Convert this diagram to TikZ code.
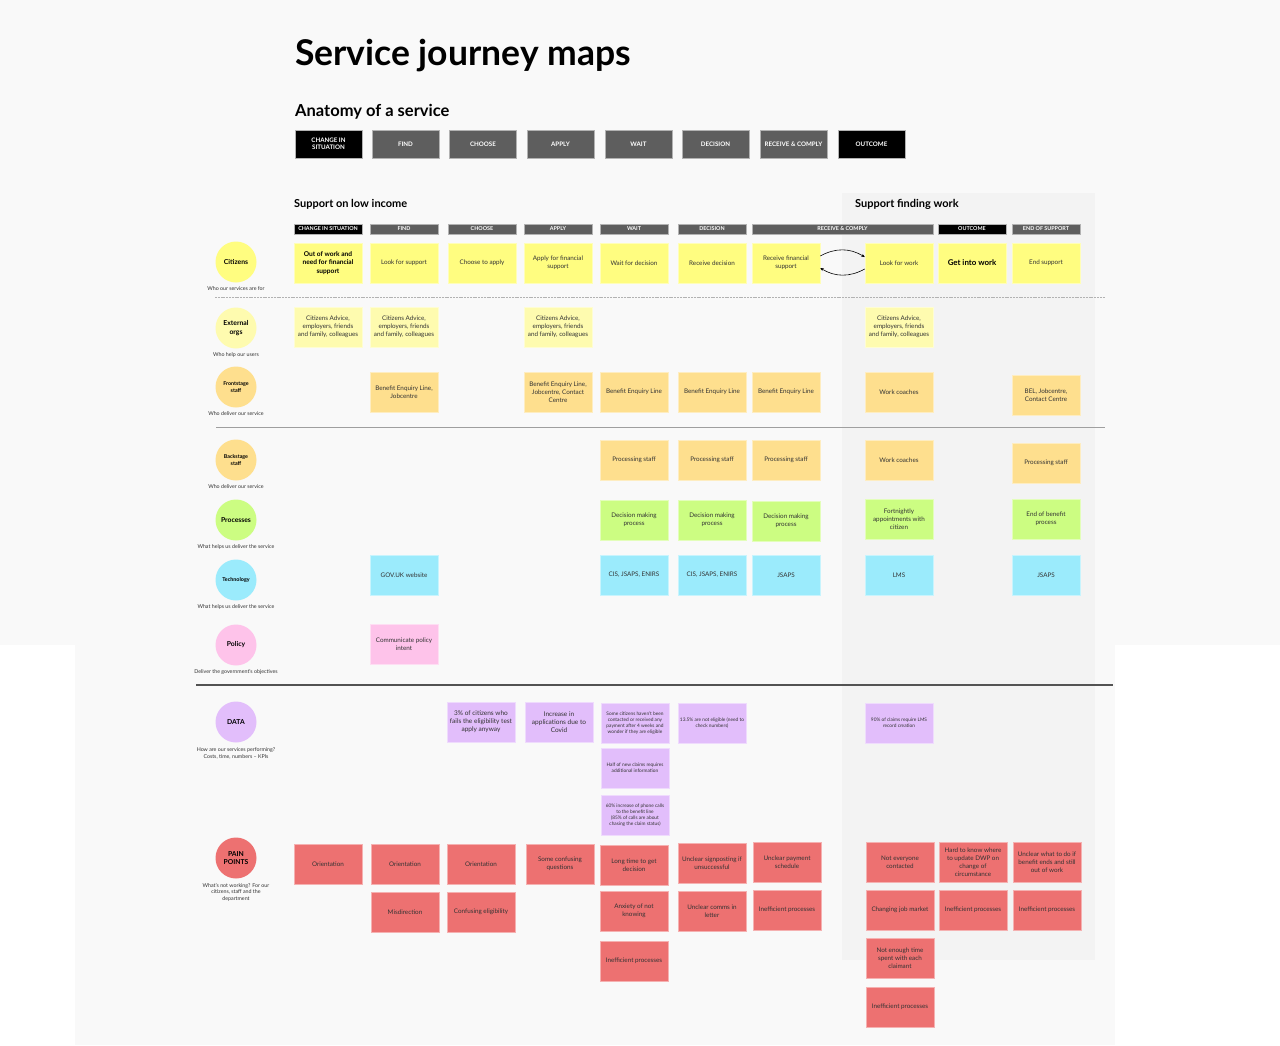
\documentclass[tikz,border=0pt]{standalone}
\usepackage{fontspec}
\setmainfont{Lato}
\usepackage{tikz}
\usetikzlibrary{arrows.meta, positioning}
\definecolor{bgpaper}{HTML}{F9F9F9}
\definecolor{panelgrey}{HTML}{F3F3F3}
\definecolor{stagegrey}{HTML}{5E5E5E}
\definecolor{inkgrey}{HTML}{333333}
\definecolor{sunyellow}{HTML}{FFFD80}
\definecolor{paleyellow}{HTML}{FEFBAF}
\definecolor{peach}{HTML}{FEDF8E}
\definecolor{lime}{HTML}{CCFD82}
\definecolor{sky}{HTML}{9BEBFC}
\definecolor{candy}{HTML}{FEC3EA}
\definecolor{lilac}{HTML}{E2BEFB}
\definecolor{coral}{HTML}{ED7171}
\tikzset{
	stagebox/.style={fill=stagegrey, draw=gray!60, line width=0.6pt, text=white, align=center,
			minimum width=67pt, minimum height=28pt, inner sep=0pt, font=\bfseries\fontsize{6.2}{7}\selectfont},
	phasebox/.style={fill=stagegrey, draw=gray!60, line width=0.5pt, text=white, align=center,
			minimum width=68pt, minimum height=10pt, inner sep=0pt, font=\bfseries\fontsize{5.4}{6}\selectfont},
	sticky/.style={fill=#1, draw=#1!55!white, line width=0.5pt, text=inkgrey, align=center,
			minimum width=68pt, minimum height=40pt, inner sep=0pt, font=\fontsize{6.3}{8}\selectfont},
	tinytext/.style={font=\fontsize{4.8}{6}\selectfont},
	role/.style={circle, fill=#1, minimum size=41pt, inner sep=0pt, align=center,
			font=\bfseries\fontsize{6.8}{8.4}\selectfont},
	caption/.style={align=center, inner sep=0pt, text=inkgrey, font=\fontsize{5.3}{6.5}\selectfont},
	heading/.style={anchor=base west, inner sep=0pt, font=\bfseries},
	divider/.style={gray!75, line width=1pt},
}
\begin{document}
\begin{tikzpicture}[x=1pt, y=-1pt]
	\useasboundingbox (0,0) rectangle (1280,1045);
	\fill[bgpaper] (0,0) rectangle (1280,1045);
	\fill[white] (0,645) rectangle (75,1045);
	\fill[white] (1115,645) rectangle (1280,1045);
	\fill[panelgrey] (842,193) rectangle (1095,960);

	\node[heading, font=\bfseries\fontsize{35.5}{42}\selectfont] (title) at (295,65) {Service journey maps};
	\node[heading, font=\bfseries\fontsize{16.5}{20}\selectfont] (anatomy) at (295,116) {Anatomy of a service};

	\node[stagebox, fill=black] (stage1) at (328.5,144) {CHANGE IN\\SITUATION};
	\node[stagebox] (stage2) at (405.5,144) {FIND};
	\node[stagebox] (stage3) at (483,144) {CHOOSE};
	\node[stagebox] (stage4) at (560.5,144) {APPLY};
	\node[stagebox] (stage5) at (638.5,144) {WAIT};
	\node[stagebox] (stage6) at (715.5,144) {DECISION};
	\node[stagebox] (stage7) at (793.5,144) {RECEIVE \& COMPLY};
	\node[stagebox, fill=black] (stage8) at (871.5,144) {OUTCOME};

	\node[heading, font=\bfseries\fontsize{11}{13}\selectfont] (lowincome) at (294,207) {Support on low income};
	\node[heading, font=\bfseries\fontsize{11}{13}\selectfont] (findingwork) at (855,207) {Support finding work};

	\node[phasebox, fill=black] (phase1) at (328,229) {CHANGE IN SITUATION};
	\node[phasebox] (phase2) at (404,229) {FIND};
	\node[phasebox] (phase3) at (482,229) {CHOOSE};
	\node[phasebox] (phase4) at (558,229) {APPLY};
	\node[phasebox] (phase5) at (634,229) {WAIT};
	\node[phasebox] (phase6) at (712,229) {DECISION};
	\node[phasebox, minimum width=181pt] (phase7) at (842.5,229) {RECEIVE \& COMPLY};
	\node[phasebox, fill=black] (phase8) at (972,229) {OUTCOME};
	\node[phasebox] (phase9) at (1046,229) {END OF SUPPORT};

	\draw[gray!60, line width=0.8pt, dash pattern=on 2pt off 0.8pt] (215,297) -- (1105,297);
	\draw[divider] (216,427) -- (1105,427);
	\draw[divider, gray!65!black, line width=1.2pt] (196,685) -- (1113,685);

	\node[role=sunyellow] (citizens) at (236,262) {Citizens};
	\node[caption, below=4pt of citizens] (citizenscap) {Who our services are for};
	\node[role=paleyellow] (extorgs) at (236,328) {External\\orgs};
	\node[caption, below=3.5pt of extorgs] (extorgscap) {Who help our users};
	\node[role=peach, font=\bfseries\fontsize{5.3}{6.5}\selectfont] (front) at (236,387) {Frontstage\\staff};
	\node[caption, below=4pt of front] (frontcap) {Who deliver our service};
	\node[role=peach, font=\bfseries\fontsize{5.3}{6.5}\selectfont] (back) at (236,460) {Backstage\\staff};
	\node[caption, below=4pt of back] (backcap) {Who deliver our service};
	\node[role=lime] (proc) at (236,520) {Processes};
	\node[caption, below=4pt of proc] (proccap) {What helps us deliver the service};
	\node[role=sky, font=\bfseries\fontsize{5.4}{6.5}\selectfont] (tech) at (236,580) {Technology};
	\node[caption, below=4pt of tech] (techcap) {What helps us deliver the service};
	\node[role=candy] (policy) at (236,645) {Policy};
	\node[caption, below=4pt of policy] (policycap) {Deliver the government's objectives};
	\node[role=lilac] (data) at (236,722) {DATA};
	\node[caption, below=5pt of data] (datacap) {How are our services performing?\\Costs, time, numbers -- KPIs};
	\node[role=coral] (pain) at (236,858) {PAIN\\POINTS};
	\node[caption, below=4.5pt of pain] (paincap) {What's not working? For our\\citizens, staff and the\\department};

	\node[sticky=sunyellow, font=\bfseries\fontsize{6.6}{8.2}\selectfont, text=black] (cit1) at (328,263) {Out of work and\\need for financial\\support};
	\node[sticky=sunyellow] (cit2) at (404,263) {Look for support};
	\node[sticky=sunyellow] (cit3) at (482,263) {Choose to apply};
	\node[sticky=sunyellow] (cit4) at (558,263) {Apply for financial\\support};
	\node[sticky=sunyellow] (cit5) at (634,263) {Wait for decision};
	\node[sticky=sunyellow] (cit6) at (712,263) {Receive decision};
	\node[sticky=sunyellow] (cit7) at (786,263) {Receive financial\\support};
	\node[sticky=sunyellow] (cit8) at (899,263) {Look for work};
	\node[sticky=sunyellow, font=\bfseries\fontsize{7.9}{9}\selectfont, text=black] (cit9) at (972,263) {Get into work};
	\node[sticky=sunyellow] (cit10) at (1046,263) {End support};
	\draw[-{Stealth[length=3.5pt, width=3pt]}, line width=0.6pt] ([yshift=7pt]cit7.east) to[bend left=30] ([yshift=6pt]cit8.west);
	\draw[-{Stealth[length=3.5pt, width=3pt]}, line width=0.6pt] ([yshift=-6pt]cit8.west) to[bend left=30] ([yshift=-5pt]cit7.east);

	\node[sticky=paleyellow] (ext1) at (328,327) {Citizens Advice,\\employers, friends\\and family, colleagues};
	\node[sticky=paleyellow] (ext2) at (404,327) {Citizens Advice,\\employers, friends\\and family, colleagues};
	\node[sticky=paleyellow] (ext4) at (558,327) {Citizens Advice,\\employers, friends\\and family, colleagues};
	\node[sticky=paleyellow] (ext8) at (899,327) {Citizens Advice,\\employers, friends\\and family, colleagues};

	\node[sticky=peach] (fro2) at (404,392) {Benefit Enquiry Line,\\Jobcentre};
	\node[sticky=peach] (fro4) at (558,392) {Benefit Enquiry Line,\\Jobcentre, Contact\\Centre};
	\node[sticky=peach] (fro5) at (634,392) {Benefit Enquiry Line};
	\node[sticky=peach] (fro6) at (712,392) {Benefit Enquiry Line};
	\node[sticky=peach] (fro7) at (786,392) {Benefit Enquiry Line};
	\node[sticky=peach] (fro8) at (899,392) {Work coaches};
	\node[sticky=peach] (fro10) at (1046,395) {BEL, Jobcentre,\\Contact Centre};

	\node[sticky=peach] (bac5) at (634,460) {Processing staff};
	\node[sticky=peach] (bac6) at (712,460) {Processing staff};
	\node[sticky=peach] (bac7) at (786,460) {Processing staff};
	\node[sticky=peach] (bac8) at (899,460) {Work coaches};
	\node[sticky=peach] (bac10) at (1046,463) {Processing staff};

	\node[sticky=lime] (pro5) at (634,520) {Decision making\\process};
	\node[sticky=lime] (pro6) at (712,520) {Decision making\\process};
	\node[sticky=lime] (pro7) at (786,521) {Decision making\\process};
	\node[sticky=lime] (pro8) at (899,519) {Fortnightly\\appointments with\\citizen};
	\node[sticky=lime] (pro10) at (1046,519) {End of benefit\\process};

	\node[sticky=sky] (tec2) at (404,575) {GOV.UK website};
	\node[sticky=sky] (tec5) at (634,575) {CIS, JSAPS, ENIRS};
	\node[sticky=sky] (tec6) at (712,575) {CIS, JSAPS, ENIRS};
	\node[sticky=sky] (tec7) at (786,575) {JSAPS};
	\node[sticky=sky] (tec8) at (899,575) {LMS};
	\node[sticky=sky] (tec10) at (1046,575) {JSAPS};

	\node[sticky=candy] (pol2) at (404,644) {Communicate policy\\intent};

	\node[sticky=lilac, font=\fontsize{6.5}{8}\selectfont] (dat3) at (481,722) {3\% of citizens who\\fails the eligibility test\\apply anyway};
	\node[sticky=lilac, font=\fontsize{6.5}{8}\selectfont] (dat4) at (559,722) {Increase in\\applications due to\\Covid};
	\node[sticky=lilac, tinytext] (dat5) at (635,723) {Some citizens haven't been\\contacted or received any\\payment after 4 weeks and\\wonder if they are eligible};
	\node[sticky=lilac, tinytext] (dat6) at (712,723) {13.5\% are not eligible (need to\\check numbers)};
	\node[sticky=lilac, tinytext] (dat8) at (899,723) {90\% of claims require LMS\\record creation};
	\node[sticky=lilac, tinytext] (datb5) at (635,768) {Half of new claims requires\\additional information};
	\node[sticky=lilac, tinytext] (datc5) at (635,815) {60\% increase of phone calls\\to the benefit line\\(85\% of calls are about\\chasing the claim status)};

	\node[sticky=coral] (pai1) at (328,864) {Orientation};
	\node[sticky=coral] (pai2) at (405,864) {Orientation};
	\node[sticky=coral] (pai3) at (481,864) {Orientation};
	\node[sticky=coral] (pai4) at (560,864) {Some confusing\\questions};
	\node[sticky=coral] (pai5) at (634,865) {Long time to get\\decision};
	\node[sticky=coral] (pai6) at (712,863) {Unclear signposting if\\unsuccessful};
	\node[sticky=coral] (pai7) at (787,862) {Unclear payment\\schedule};
	\node[sticky=coral] (pai8) at (900,862) {Not everyone\\contacted};
	\node[sticky=coral] (pai9) at (973,862) {Hard to know where\\to update DWP on\\change of\\circumstance};
	\node[sticky=coral] (pai10) at (1047,862) {Unclear what to do if\\benefit ends and still\\out of work};
	\node[sticky=coral] (paib2) at (405,912) {Misdirection};
	\node[sticky=coral] (paib3) at (481,912) {Confusing eligibility};
	\node[sticky=coral] (paib5) at (634,911) {Anxiety of not\\knowing};
	\node[sticky=coral] (paib6) at (712,911) {Unclear comms in\\letter};
	\node[sticky=coral] (paib7) at (787,910) {Inefficient processes};
	\node[sticky=coral] (paib8) at (900,910) {Changing job market};
	\node[sticky=coral] (paib9) at (973,910) {Inefficient processes};
	\node[sticky=coral] (paib10) at (1047,910) {Inefficient processes};
	\node[sticky=coral] (paic5) at (634,961) {Inefficient processes};
	\node[sticky=coral] (paic8) at (900,958) {Not enough time\\spent with each\\claimant};
	\node[sticky=coral] (paid8) at (900,1007) {Inefficient processes};
\end{tikzpicture}
\end{document}
